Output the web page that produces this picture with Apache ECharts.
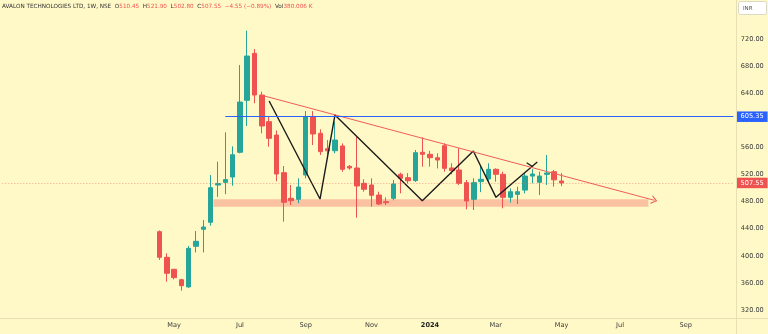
<!DOCTYPE html>
<html>
<head>
<meta charset="utf-8">
<script src="https://cdn.jsdelivr.net/npm/echarts@6/dist/echarts.min.js"></script>
<style>
  html, body { margin: 0; padding: 0; background: #fff9c7; }
  #chart { width: 768px; height: 334px; }
</style>
</head>
<body>
<div id="chart"></div>
<script>
// AVALON TECHNOLOGIES LTD (NSE), weekly candles from the listing week
const firstWeek = '2023-04-17';

const opens = [
  435.6, 397.8, 380.1, 364.7, 354.0, 414.0, 439.1, 449.4, 504.5, 508.4,
  516.3, 552.8, 629.5, 698.9, 637.3, 598.0, 578.3, 522.7, 484.9, 483.4,
  519.3, 605.3, 580.8, 558.0, 555.1, 562.1, 532.1, 529.6, 507.0, 504.5,
  489.7, 479.9, 484.9, 520.3, 515.3, 511.0, 552.8, 549.8, 544.8, 562.5,
  529.6, 526.7, 508.0, 483.4, 509.5, 513.4, 527.7, 520.3, 486.3, 490.7,
  497.0, 517.7, 508.5, 520.3, 524.1, 510.45
];
const closes = [
  397.8, 374.2, 367.8, 355.9, 411.0, 421.4, 442.5, 500.5, 506.6, 512.6,
  549.2, 627.0, 694.9, 637.3, 591.6, 573.4, 520.7, 479.0, 481.3, 501.5,
  605.3, 579.8, 553.7, 555.0, 570.9, 527.7, 529.6, 503.0, 498.2, 489.3,
  476.5, 478.4, 506.0, 514.4, 510.8, 552.2, 549.8, 544.8, 541.4, 529.1,
  525.7, 507.0, 480.9, 508.0, 513.0, 527.7, 520.3, 486.3, 494.6, 494.6,
  517.7, 520.7, 517.7, 522.2, 512.10, 507.55
];
const lows = [
  394.0, 361.8, 365.3, 348.5, 353.0, 405.0, 405.0, 444.5, 487.0, 491.0,
  503.5, 551.3, 591.6, 625.1, 580.8, 561.0, 510.0, 450.3, 475.0, 477.5,
  514.4, 563.5, 548.8, 549.0, 551.3, 524.1, 527.0, 456.2, 494.6, 472.5,
  475.0, 475.0, 482.0, 492.2, 507.0, 509.0, 531.5, 531.5, 529.0, 524.1,
  520.3, 504.5, 468.6, 467.6, 494.0, 507.0, 509.4, 470.1, 478.4, 476.5,
  492.2, 507.0, 489.7, 504.5, 502.0, 502.80
];
const highs = [
  437.5, 403.7, 380.6, 366.0, 414.5, 436.6, 452.8, 519.3, 538.9, 582.3,
  561.6, 681.6, 732.3, 705.2, 642.2, 605.3, 585.0, 532.5, 504.5, 514.4,
  613.7, 613.7, 586.7, 571.0, 598.0, 566.0, 534.0, 575.8, 512.9, 514.4,
  494.6, 486.3, 511.9, 522.7, 522.0, 556.2, 574.9, 555.0, 551.3, 566.0,
  536.6, 558.7, 511.9, 514.4, 533.0, 536.6, 529.1, 524.1, 499.6, 502.0,
  521.7, 528.0, 524.1, 548.8, 526.7, 521.90
];
const lastVolume = '380.006 K';

// Empty weeks kept on the time axis before the first and after the last candle
const leadWeeks = 21;
const tailWeeks = 23;

// Drawings, as [weeks from the first candle, price]
const zigzag = [[15.0, 628.5], [21.96, 483.8], [24.0, 607.8], [35.95, 481.3],
                [42.93, 554.7], [46.03, 486.3], [51.68, 538.5]];
const zigzagCross = [[50.23, 537.4], [51.05, 531.5]];
const trendline = [[13.87, 637.3], [67.7, 481.9]];
const resistance = { from: 9.0, price: 605.35 };
const supportZone = { from: 7.36, to: 66.87, low: 472.5, high: 483.5 };

// Price scale labels and month labels
const priceTicks = [320, 360, 400, 440, 480, 520, 560, 600, 640, 680, 720];
const monthNames = ['Jan', 'Feb', 'Mar', 'Apr', 'May', 'Jun',
                    'Jul', 'Aug', 'Sep', 'Oct', 'Nov', 'Dec'];

const UP = '#26a69a', DOWN = '#ef5350', TEXT = '#3a3a3a', FONT = 'DejaVu Sans';

// Weekly category axis (Mondays)
const totalWeeks = leadWeeks + opens.length + tailWeeks;
const startMs = Date.parse(firstWeek + 'T00:00:00Z') - leadWeeks * 7 * 86400000;
const weeks = [];
for (let i = 0; i < totalWeeks; i++) {
  weeks.push(new Date(startMs + i * 7 * 86400000).toISOString().slice(0, 10));
}

const candles = [];
for (let i = 0; i < leadWeeks; i++) candles.push(['-', '-', '-', '-']);
opens.forEach((o, i) => candles.push([o, closes[i], lows[i], highs[i]]));

const toAxis = p => [p[0] + leadWeeks, p[1]];

const n = opens.length;
const lastClose = closes[n - 1];
const change = lastClose - closes[n - 2];
const changePct = change / closes[n - 2] * 100;
const signed = v => (v < 0 ? '\u2212' : '+') + Math.abs(v).toFixed(2);

function isMonthLabel(dateStr) {
  const d = new Date(dateStr + 'T00:00:00Z');
  return d.getUTCDate() <= 7 && d.getUTCMonth() % 2 === 0 && dateStr >= firstWeek;
}

const chevron = 'path://M0,8 L5,0 L10,8 L8.5,8 L5,2.3 L1.5,8 Z';

const chart = echarts.init(document.getElementById('chart'), null, { renderer: 'canvas' });

chart.setOption({
  animation: false,
  backgroundColor: '#fff9c7',
  title: {
    left: 2,
    top: 4,
    padding: 0,
    text: '{n|AVALON TECHNOLOGIES LTD, 1W, NSE}  {n|O}{v|' + opens[n - 1].toFixed(2) +
          '}  {n|H}{v|' + highs[n - 1].toFixed(2) +
          '}  {n|L}{v|' + lows[n - 1].toFixed(2) +
          '}  {n|C}{v|' + lastClose.toFixed(2) +
          '}  {v|' + signed(change) + ' (' + signed(changePct) + '%)}  {n|Vol}{v|' + lastVolume + '}',
    textStyle: {
      fontSize: 5.7, fontFamily: FONT, fontWeight: 'normal', color: TEXT,
      rich: {
        n: { fontSize: 5.7, fontFamily: FONT, color: '#333333' },
        v: { fontSize: 5.7, fontFamily: FONT, color: DOWN }
      }
    }
  },
  grid: {
    left: 2.335, top: 0, width: 731, height: 323.55,
    containLabel: false, outerBoundsMode: 'none'
  },
  xAxis: [
    {
      type: 'category',
      data: weeks,
      boundaryGap: true,
      offset: -5,
      axisLine: { show: false },
      axisTick: { show: false },
      splitLine: { show: false },
      axisLabel: {
        interval: (idx, val) => isMonthLabel(val),
        formatter: val => {
          const d = new Date(val + 'T00:00:00Z');
          return d.getUTCMonth() === 0 ? '{y|' + d.getUTCFullYear() + '}' : monthNames[d.getUTCMonth()];
        },
        margin: 3,
        color: TEXT,
        fontSize: 6.6,
        fontFamily: FONT,
        hideOverlap: false,
        rich: { y: { fontSize: 6.6, fontFamily: FONT, fontWeight: 'bold', color: '#222' } }
      }
    },
    {
      type: 'value',
      min: -0.5,
      max: totalWeeks - 0.5,
      show: false
    }
  ],
  yAxis: {
    type: 'value',
    position: 'right',
    min: 300,
    max: 777.6,
    interval: 20,
    axisLine: { show: false },
    axisTick: { show: false },
    splitLine: { show: false },
    axisLabel: {
      margin: 7.4,
      color: TEXT,
      fontSize: 6.6,
      fontFamily: FONT,
      formatter: v => priceTicks.some(t => Math.abs(t - v) < 1e-6) ? v.toFixed(2) : ''
    }
  },
  series: [
    {
      type: 'candlestick',
      xAxisIndex: 0,
      data: candles,
      barWidth: 5,
      silent: true,
      itemStyle: {
        color: UP, color0: DOWN,
        borderColor: UP, borderColor0: DOWN,
        borderWidth: 1
      }
    },
    {
      type: 'line',
      xAxisIndex: 1,
      data: zigzag.map(toAxis),
      symbol: 'none',
      silent: true,
      z: 4,
      lineStyle: { color: '#1c1c1c', width: 1.4 },
      markArea: {
        silent: true,
        itemStyle: { color: 'rgba(242,54,69,0.28)' },
        data: [[
          { coord: [supportZone.from + leadWeeks, supportZone.high] },
          { coord: [supportZone.to + leadWeeks, supportZone.low] }
        ]]
      },
      markLine: {
        silent: true,
        symbol: ['none', 'none'],
        data: [
          [
            { coord: toAxis(trendline[0]), symbol: 'none' },
            { coord: toAxis(trendline[1]), symbol: chevron, symbolSize: [9, 6] }
          ],
          [
            { coord: [-0.5, lastClose] },
            { coord: [totalWeeks - 0.5, lastClose] }
          ],
          [
            { coord: [resistance.from + leadWeeks, resistance.price] },
            { coord: [totalWeeks - 0.5, resistance.price] }
          ]
        ].map((pair, k) => {
          if (k === 0) {
            pair[0].lineStyle = { color: '#f25c58', width: 1, type: 'solid' };
            pair[0].label = { show: false };
          } else {
            const isBlue = k === 2;
            pair[0].lineStyle = isBlue
              ? { color: '#2962ff', width: 1, type: 'solid' }
              : { color: 'rgba(239,83,80,0.5)', width: 1, type: [1, 2] };
            pair[0].label = {
              show: true,
              position: 'end',
              distance: 2.7,
              formatter: () => (isBlue ? resistance.price : lastClose).toFixed(2),
              color: '#ffffff',
              fontSize: 6.6,
              fontFamily: FONT,
              backgroundColor: isBlue ? '#2962ff' : '#ef5350',
              padding: [2, 4, 1.5, 4.5],
              borderRadius: 0
            };
          }
          return pair;
        })
      }
    },
    {
      type: 'line',
      xAxisIndex: 1,
      data: zigzagCross.map(toAxis),
      symbol: 'none',
      silent: true,
      z: 4,
      lineStyle: { color: '#1c1c1c', width: 1.4 }
    }
  ],
  graphic: [
    { type: 'line', silent: true, z: 10,
      shape: { x1: 0, y1: 318.5, x2: 768, y2: 318.5 },
      style: { stroke: '#e8e0b3', lineWidth: 1 } },
    { type: 'line', silent: true, z: 10,
      shape: { x1: 736.5, y1: 0, x2: 736.5, y2: 334 },
      style: { stroke: '#e8e0b3', lineWidth: 1 } },
    { type: 'rect', silent: true, z: 11,
      shape: { x: 738.5, y: 1.5, width: 28, height: 13, r: 2 },
      style: { fill: '#ffffff', stroke: '#dcd8c8', lineWidth: 1 } },
    { type: 'text', silent: true, z: 12,
      style: { text: 'INR', x: 743, y: 8.5, fill: '#555555', font: '5.5px "DejaVu Sans"', verticalAlign: 'middle' } }
  ]
});
</script>
</body>
</html>
